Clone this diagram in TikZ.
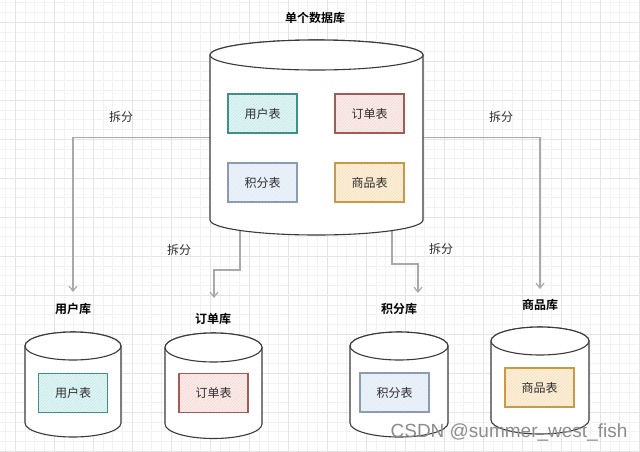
\documentclass[tikz,border=0pt]{standalone}
\usepackage{fontspec}
\setmainfont{Noto Sans CJK SC}[BoldFont={Noto Sans CJK SC Bold}]
\newfontfamily\wmfont{Liberation Sans}
\usetikzlibrary{arrows.meta,patterns,fit}
\pgfdeclarelayer{gridlayer}
\pgfdeclarelayer{bglayer}
\pgfsetlayers{gridlayer,bglayer,main}
\definecolor{txt}{HTML}{2E2E2E}
\definecolor{cyl}{HTML}{3A3A3A}
\definecolor{conncol}{HTML}{A9A9A9}
\definecolor{gmaj}{HTML}{E4E4E4}
\definecolor{gmin}{HTML}{F2F2F2}
\definecolor{uB}{HTML}{3F9186}\definecolor{uF}{HTML}{E4F6F6}\definecolor{uH}{HTML}{BFE6E6}
\definecolor{oB}{HTML}{A45A55}\definecolor{oF}{HTML}{FBEDEB}\definecolor{oH}{HTML}{F2D6D2}
\definecolor{pB}{HTML}{8C9CB0}\definecolor{pF}{HTML}{EEF4FB}\definecolor{pH}{HTML}{DCE7F3}
\definecolor{gB}{HTML}{C89A45}\definecolor{gF}{HTML}{FDF1DE}\definecolor{gH}{HTML}{F5DDB5}
\tikzset{
  cylline/.style={draw=cyl, line width=1.1pt, fill=white},
  tbl/.style={draw, line width=1.1pt, minimum width=69pt, minimum height=39pt, inner sep=0pt, text=txt, font=\fontsize{12}{14}\selectfont},
  utbl/.style={tbl, draw=uB, preaction={fill=uF}, pattern=north east lines, pattern color=uH},
  otbl/.style={tbl, draw=oB, preaction={fill=oF}, pattern=north east lines, pattern color=oH},
  ptbl/.style={tbl, draw=pB, preaction={fill=pF}, pattern=north east lines, pattern color=pH},
  gtbl/.style={tbl, draw=gB, preaction={fill=gF}, pattern=north east lines, pattern color=gH},
  dblabel/.style={text=black, font=\bfseries\fontsize{12}{14}\selectfont, inner sep=1pt},
  splitlabel/.style={text=txt, font=\fontsize{12}{14}\selectfont, inner sep=1pt},
  conn/.style={draw=conncol, line width=1.2pt, -{Straight Barb[length=5pt,width=8pt]}},
}
% name, left, right, top-ellipse y, bottom-ellipse y, y radius
\newcommand\dbcyl[6]{%
  \pgfmathsetmacro\rxc{(#3-#2)/2}%
  \pgfmathsetmacro\cxc{(#3+#2)/2}%
  \filldraw[cylline] (#2,#4) -- (#2,#5) arc[start angle=180,end angle=360,x radius=\rxc pt,y radius=#6pt]
     -- (#3,#4) arc[start angle=0,end angle=180,x radius=\rxc pt,y radius=#6pt] -- cycle;
  \draw[cylline] (\cxc,#4) ellipse[x radius=\rxc pt,y radius=#6pt];
  \node[fit={(#2,{#4-#6}) (#3,{#5+#6})}, inner sep=0pt] (#1) {};
}
\begin{document}
\begin{tikzpicture}[x=1pt,y=-1pt]
\useasboundingbox (0,0) rectangle (640,451);
\begin{pgfonlayer}{gridlayer}
  \fill[white] (0,0) rectangle (640,451);
  \foreach \x in {5.25,15,...,640} \draw[gmin, line width=0.5pt] (\x,0) -- (\x,451);
  \foreach \y in {2.5,12.25,...,451} \draw[gmin, line width=0.5pt] (0,\y) -- (640,\y);
  \foreach \x in {15,54,...,640} \draw[gmaj, line width=0.8pt] (\x,0) -- (\x,451);
  \foreach \y in {22,61,...,451} \draw[gmaj, line width=0.8pt] (0,\y) -- (640,\y);
\end{pgfonlayer}

% main database
\dbcyl{main}{210}{423}{55}{220}{15}
\node[dblabel] (l0) at (315,18) {单个数据库};
\node[utbl] (mu) at (262.5,113.5) {用户表};
\node[otbl] (mo) at (369.5,113.5) {订单表};
\node[ptbl] (mp) at (262.5,182.5) {积分表};
\node[gtbl] (mg) at (369.5,182.5) {商品表};

% split databases
\dbcyl{db1}{25}{121}{346}{423}{14}
\dbcyl{db2}{165}{262}{347.5}{424}{14.5}
\dbcyl{db3}{350}{448}{346}{423}{14}
\dbcyl{db4}{491}{589}{341}{420}{14}
\node[utbl] (t1) at (73,393) {用户表};
\node[otbl] (t2) at (213.5,393) {订单表};
\node[ptbl] (t3) at (394.5,392.5) {积分表};
\node[gtbl] (t4) at (539.5,387.5) {商品表};
\node[dblabel] (l1) at (73,309) {用户库};
\node[dblabel] (l2) at (213,319) {订单库};
\node[dblabel] (l3) at (399,309) {积分库};
\node[dblabel] (l4) at (540,305) {商品库};

% split labels
\node[splitlabel] (s1) at (121,117) {拆分};
\node[splitlabel] (s2) at (501,117) {拆分};
\node[splitlabel] (s3) at (179,250) {拆分};
\node[splitlabel] (s4) at (441,249) {拆分};

% connectors
\coordinate (e1) at (73,292);
\coordinate (e4) at (540,289);
\coordinate (b2) at (240,226);
\coordinate (k2) at (214,270);
\coordinate (e2) at (214,298);
\coordinate (b3) at (392,226);
\coordinate (k3) at (418,264);
\coordinate (e3) at (418,293);
\begin{pgfonlayer}{bglayer}
  \draw[conn] (main.west) -| (e1);
  \draw[conn] (main.east) -| (e4);
  \draw[conn] (b2) |- (k2) -- (e2);
  \draw[conn] (b3) |- (k3) -- (e3);
\end{pgfonlayer}

% watermark
\node[text=black!45, font=\wmfont\fontsize{19}{22}\selectfont, inner sep=0pt] (wm) at (509,432) {CSDN @summer\_west\_fish};
\end{tikzpicture}
\end{document}
